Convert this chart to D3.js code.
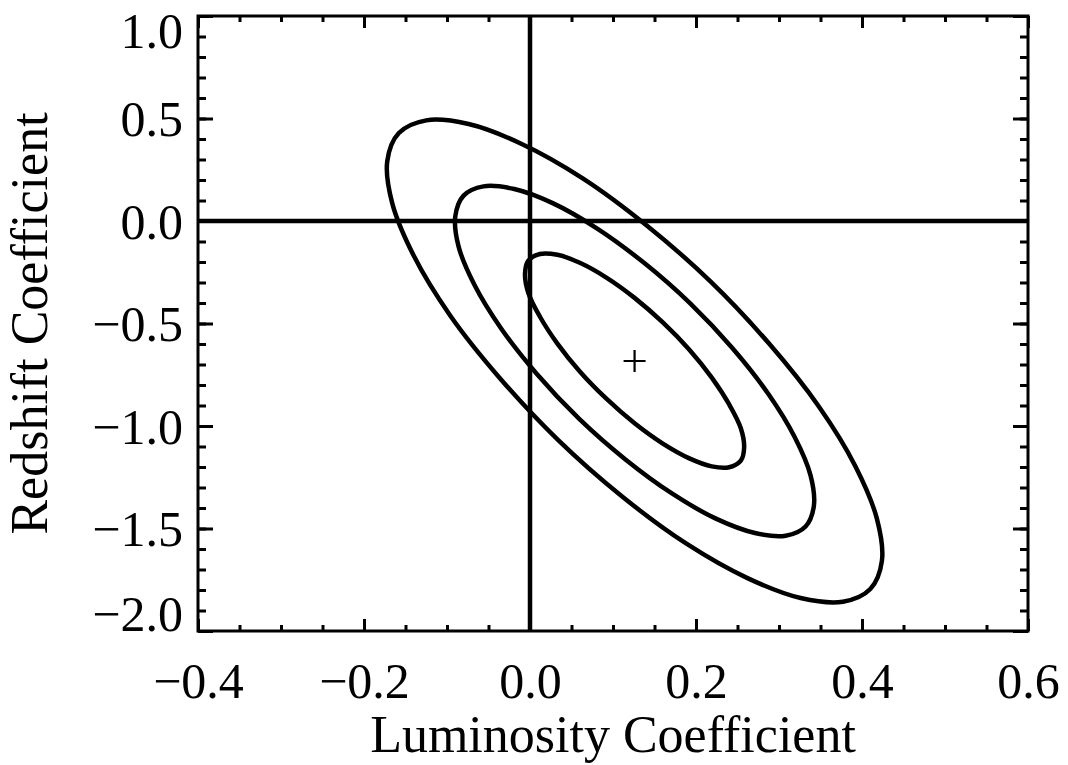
<!DOCTYPE html>
<html>
<head>
<meta charset="utf-8">
<script src="https://cdn.jsdelivr.net/npm/d3@7"></script>
<style>
  html, body { margin: 0; padding: 0; background: #fff; }
  svg { display: block; }
  text { font-family: "Liberation Serif", "Times New Roman", serif; fill: #000; }
</style>
</head>
<body>
<svg id="chart" width="1068" height="765"></svg>
<script>
// Axis ranges and ticks
const xDomain = [-0.4, 0.6];
const yDomain = [-2.0, 1.0];
const xMajorTicks = [-0.4, -0.2, 0.0, 0.2, 0.4, 0.6];
const yMajorTicks = [1.0, 0.5, 0.0, -0.5, -1.0, -1.5, -2.0];
const xLabel = "Luminosity Coefficient";
const yLabel = "Redshift Coefficient";

// Best-fit coefficients (luminosity, redshift)
const bestFit = [0.126, -0.683];

// Confidence contours, [luminosity, redshift] points around each closed curve
const contourInner = [
  [0.258, -1.105], [0.254, -1.169], [0.240, -1.201], [0.219, -1.197],
  [0.192, -1.158], [0.160, -1.086], [0.126, -0.987], [0.092, -0.867],
  [0.060, -0.734], [0.033, -0.598], [0.012, -0.467], [-0.002, -0.351],
  [-0.006, -0.257], [-0.002, -0.193], [0.012, -0.161], [0.033, -0.165],
  [0.060, -0.204], [0.092, -0.276], [0.126, -0.375], [0.160, -0.495],
  [0.192, -0.628], [0.219, -0.764], [0.240, -0.895], [0.254, -1.011]
];
const contourMiddle = [
  [0.332, -1.490], [0.308, -1.535], [0.271, -1.522], [0.224, -1.452],
  [0.171, -1.329], [0.115, -1.163], [0.059, -0.964], [0.008, -0.745],
  [-0.035, -0.523], [-0.067, -0.311], [-0.086, -0.125], [-0.090, 0.023],
  [-0.080, 0.124], [-0.056, 0.169], [-0.019, 0.156], [0.028, 0.086],
  [0.081, -0.037], [0.137, -0.203], [0.193, -0.402], [0.244, -0.621],
  [0.287, -0.843], [0.319, -1.055], [0.338, -1.241], [0.342, -1.390]
];
const contourOuter = [
  [0.410, -1.795], [0.377, -1.857], [0.326, -1.839], [0.262, -1.742],
  [0.188, -1.573], [0.111, -1.344], [0.034, -1.069], [-0.036, -0.768],
  [-0.096, -0.462], [-0.140, -0.170], [-0.166, 0.087], [-0.172, 0.291],
  [-0.158, 0.429], [-0.125, 0.491], [-0.074, 0.473], [-0.010, 0.376],
  [0.064, 0.207], [0.141, -0.023], [0.218, -0.297], [0.288, -0.598],
  [0.348, -0.905], [0.392, -1.196], [0.418, -1.453], [0.424, -1.657]
];
const contours = [contourOuter, contourMiddle, contourInner];

// Layout
const plot = { left: 198, right: 1028, top: 16, bottom: 631 };
const svg = d3.select("#chart");

const x = d3.scaleLinear().domain(xDomain).range([plot.left, plot.right]);
const y = d3.scaleLinear().domain(yDomain).range([plot.bottom, plot.top]);

const fmt = d3.format(".1f");
const xMinor = d3.range(-0.4, 0.6001, 0.05).map(v => +v.toFixed(3));
const yMinor = d3.range(-2.0, 1.0001, 0.1).map(v => +v.toFixed(3));

const tickW = 3;
const majorY = 15, minorY = 8, majorX = 12, minorX = 6;

function styleAxis(g) {
  g.select(".domain").remove();
  g.selectAll(".tick line").attr("stroke", "#000").attr("stroke-width", tickW);
}

// Minor ticks (all four sides, pointing inward)
svg.append("g").attr("transform", `translate(0,${plot.bottom})`)
  .call(d3.axisBottom(x).tickValues(xMinor).tickSize(-minorX).tickFormat(""))
  .call(styleAxis);
svg.append("g").attr("transform", `translate(0,${plot.top})`)
  .call(d3.axisTop(x).tickValues(xMinor).tickSize(-minorX).tickFormat(""))
  .call(styleAxis);
svg.append("g").attr("transform", `translate(${plot.left},0)`)
  .call(d3.axisLeft(y).tickValues(yMinor).tickSize(-minorY).tickFormat(""))
  .call(styleAxis);
svg.append("g").attr("transform", `translate(${plot.right},0)`)
  .call(d3.axisRight(y).tickValues(yMinor).tickSize(-minorY).tickFormat(""))
  .call(styleAxis);

// Major ticks with labels
const xAxisG = svg.append("g").attr("transform", `translate(0,${plot.bottom})`)
  .call(d3.axisBottom(x).tickValues(xMajorTicks).tickSize(-majorX).tickPadding(32).tickFormat(fmt))
  .call(styleAxis);
xAxisG.selectAll(".tick text")
  .attr("font-size", 50).attr("dy", "0.71em").attr("y", 31)
  .style("font-family", "'Liberation Serif', serif");

svg.append("g").attr("transform", `translate(0,${plot.top})`)
  .call(d3.axisTop(x).tickValues(xMajorTicks).tickSize(-majorX).tickFormat(""))
  .call(styleAxis);

const yAxisG = svg.append("g").attr("transform", `translate(${plot.left},0)`)
  .call(d3.axisLeft(y).tickValues(yMajorTicks).tickSize(-majorY).tickPadding(15).tickFormat(fmt))
  .call(styleAxis);
yAxisG.selectAll(".tick text")
  .attr("font-size", 50)
  .style("font-family", "'Liberation Serif', serif")
  .attr("dy", d => d === yDomain[1] ? "0.62em" : (d === yDomain[0] ? "-0.02em" : "0.34em"));

svg.append("g").attr("transform", `translate(${plot.right},0)`)
  .call(d3.axisRight(y).tickValues(yMajorTicks).tickSize(-majorY).tickFormat(""))
  .call(styleAxis);

// Zero reference lines
svg.append("line")
  .attr("x1", x(0)).attr("x2", x(0)).attr("y1", y(yDomain[0])).attr("y2", y(yDomain[1]))
  .attr("stroke", "#000").attr("stroke-width", 4.5);
svg.append("line")
  .attr("x1", x(xDomain[0])).attr("x2", x(xDomain[1])).attr("y1", y(0)).attr("y2", y(0))
  .attr("stroke", "#000").attr("stroke-width", 4.5);

// Contours
const line = d3.line()
  .x(d => x(d[0])).y(d => y(d[1]))
  .curve(d3.curveCatmullRomClosed.alpha(0.5));
svg.append("g").selectAll("path")
  .data(contours)
  .join("path")
  .attr("d", line)
  .attr("fill", "none")
  .attr("stroke", "#000")
  .attr("stroke-width", 4.5)
  .attr("stroke-linejoin", "round");

// Best-fit marker
const px = x(bestFit[0]), py = y(bestFit[1]), arm = 11;
svg.append("path")
  .attr("d", `M${px - arm},${py}H${px + arm}M${px},${py - arm}V${py + arm}`)
  .attr("stroke", "#000").attr("stroke-width", 2.2).attr("fill", "none");

// Plot frame
svg.append("rect")
  .attr("x", plot.left).attr("y", plot.top)
  .attr("width", plot.right - plot.left).attr("height", plot.bottom - plot.top)
  .attr("fill", "none").attr("stroke", "#000").attr("stroke-width", 3);

// Axis titles
svg.append("text")
  .attr("x", (plot.left + plot.right) / 2).attr("y", 752)
  .attr("text-anchor", "middle").attr("font-size", 52)
  .text(xLabel);
svg.append("text")
  .attr("transform", `translate(47,${(plot.top + plot.bottom) / 2}) rotate(-90)`)
  .attr("text-anchor", "middle").attr("font-size", 52)
  .text(yLabel);
</script>
</body>
</html>
